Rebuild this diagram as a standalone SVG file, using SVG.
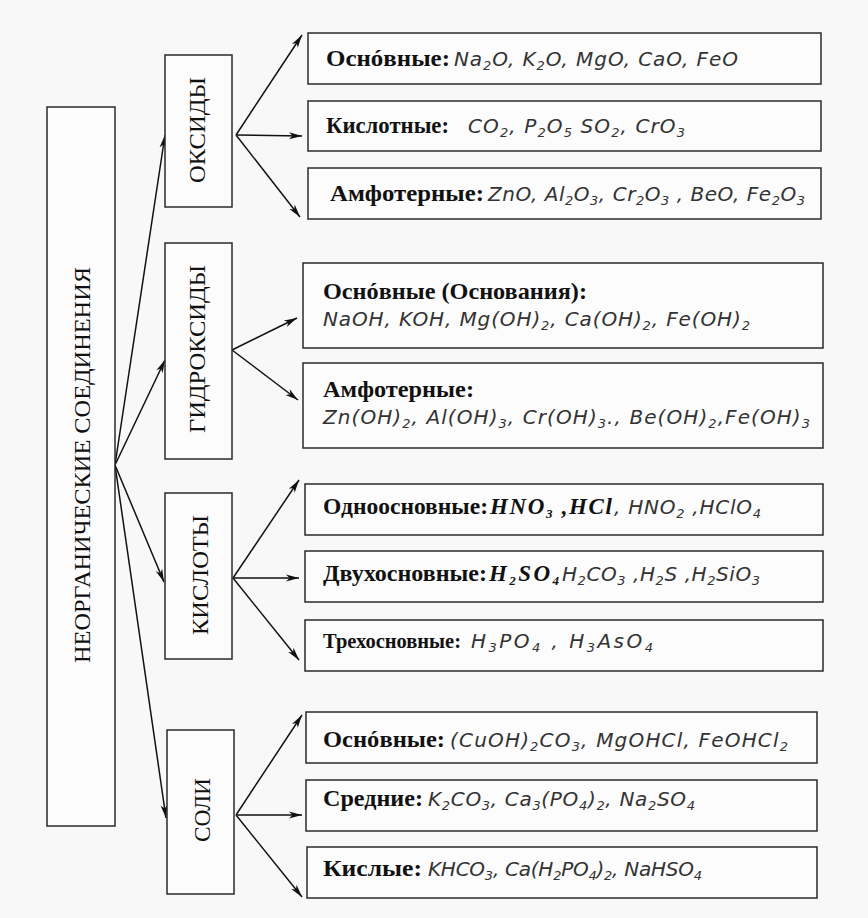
<svg xmlns="http://www.w3.org/2000/svg" width="868" height="918" viewBox="0 0 868 918">
<defs>
<style>
.bg{fill:#f8f8f8}
.box{fill:#fcfcfc;stroke:#2a2a2a;stroke-width:1.5}
.ttl{font-family:"Liberation Serif","Times New Roman",serif;font-size:24px;fill:#111}
.lbl{font-family:"Liberation Serif","Times New Roman",serif;font-size:23px;font-weight:bold;fill:#111}
.fb{font-family:"Liberation Serif","Times New Roman",serif;font-size:23px;font-weight:bold;font-style:italic;fill:#111}
.f{font-family:"DejaVu Sans","Liberation Sans",sans-serif;font-size:20px;font-style:italic;fill:#333}
.s{font-size:13px}
.arr{stroke:#111;stroke-width:1.5;fill:none;marker-end:url(#ah)}
</style>
<marker id="ah" markerUnits="userSpaceOnUse" markerWidth="14" markerHeight="8" refX="13" refY="3.5" orient="auto" overflow="visible">
<path d="M0,0 L13,3.5 L0,7 L3.5,3.5 z" fill="#111"/>
</marker>
</defs>
<rect class="bg" x="0" y="0" width="868" height="918"/>

<g id="connectors">
<line class="arr" x1="115" y1="465" x2="165" y2="135"/>
<line class="arr" x1="115" y1="465" x2="165" y2="360"/>
<line class="arr" x1="115" y1="465" x2="164" y2="582"/>
<line class="arr" x1="115" y1="465" x2="166" y2="818"/>
<line class="arr" x1="236" y1="135" x2="302" y2="35"/>
<line class="arr" x1="236" y1="135" x2="302" y2="136"/>
<line class="arr" x1="236" y1="135" x2="300" y2="217"/>
<line class="arr" x1="232" y1="350" x2="297" y2="318"/>
<line class="arr" x1="232" y1="350" x2="298" y2="400"/>
<line class="arr" x1="233" y1="578" x2="299" y2="480"/>
<line class="arr" x1="233" y1="578" x2="299" y2="578"/>
<line class="arr" x1="233" y1="578" x2="299" y2="660"/>
<line class="arr" x1="236" y1="815" x2="302" y2="715"/>
<line class="arr" x1="236" y1="815" x2="302" y2="815"/>
<line class="arr" x1="236" y1="815" x2="302" y2="897"/>
</g>

<g id="root">
<rect class="box" x="47" y="107" width="68" height="719"/>
<text class="ttl" transform="translate(90,465) rotate(-90)" x="0" y="0" text-anchor="middle" textLength="396" lengthAdjust="spacingAndGlyphs">НЕОРГАНИЧЕСКИЕ СОЕДИНЕНИЯ</text>
</g>

<g id="oxides">
<rect class="box" x="165" y="55" width="67" height="152"/>
<text class="ttl" transform="translate(205,130) rotate(-90)" x="0" y="0" text-anchor="middle" textLength="106" lengthAdjust="spacingAndGlyphs">ОКСИДЫ</text>
</g>
<g id="hydroxides">
<rect class="box" x="165" y="243" width="67" height="216"/>
<text class="ttl" transform="translate(205,349) rotate(-90)" x="0" y="0" text-anchor="middle" textLength="168" lengthAdjust="spacingAndGlyphs">ГИДРОКСИДЫ</text>
</g>
<g id="acids">
<rect class="box" x="165" y="493" width="67" height="166"/>
<text class="ttl" transform="translate(208,575) rotate(-90)" x="0" y="0" text-anchor="middle" textLength="120" lengthAdjust="spacingAndGlyphs">КИСЛОТЫ</text>
</g>
<g id="salts">
<rect class="box" x="167" y="730" width="67" height="164"/>
<text class="ttl" transform="translate(210,810) rotate(-90)" x="0" y="0" text-anchor="middle" textLength="64" lengthAdjust="spacingAndGlyphs">СОЛИ</text>
</g>

<g id="oxide-basic">
<rect class="box" x="308" y="33" width="513" height="51"/>
<text class="lbl" x="326" y="66" textLength="124" lengthAdjust="spacingAndGlyphs">Оснóвные:</text>
<text class="f" x="454" y="66" textLength="284">Na<tspan class="s" dy="4">2</tspan><tspan dy="-4">O, K</tspan><tspan class="s" dy="4">2</tspan><tspan dy="-4">O, MgO, CaO, FeO</tspan></text>
</g>
<g id="oxide-acidic">
<rect class="box" x="308" y="101" width="513" height="50"/>
<text class="lbl" x="326" y="133" textLength="123" lengthAdjust="spacingAndGlyphs">Кислотные:</text>
<text class="f" x="468" y="133" textLength="217">CO<tspan class="s" dy="4">2</tspan><tspan dy="-4">, P</tspan><tspan class="s" dy="4">2</tspan><tspan dy="-4">O</tspan><tspan class="s" dy="4">5</tspan><tspan dy="-4"> SO</tspan><tspan class="s" dy="4">2</tspan><tspan dy="-4">, CrO</tspan><tspan class="s" dy="4">3</tspan></text>
</g>
<g id="oxide-amph">
<rect class="box" x="308" y="168" width="513" height="51"/>
<text class="lbl" x="330" y="201" textLength="154" lengthAdjust="spacingAndGlyphs">Амфотерные:</text>
<text class="f" x="488" y="201" textLength="317">ZnO, Al<tspan class="s" dy="4">2</tspan><tspan dy="-4">O</tspan><tspan class="s" dy="4">3</tspan><tspan dy="-4">, Cr</tspan><tspan class="s" dy="4">2</tspan><tspan dy="-4">O</tspan><tspan class="s" dy="4">3</tspan><tspan dy="-4"> , BeO, Fe</tspan><tspan class="s" dy="4">2</tspan><tspan dy="-4">O</tspan><tspan class="s" dy="4">3</tspan></text>
</g>

<g id="hydroxide-basic">
<rect class="box" x="303" y="263" width="520" height="85"/>
<text class="lbl" x="323" y="299" textLength="264" lengthAdjust="spacingAndGlyphs">Оснóвные (Основания):</text>
<text class="f" x="323" y="326" textLength="427">NaOH, KOH, Mg(OH)<tspan class="s" dy="4">2</tspan><tspan dy="-4">, Ca(OH)</tspan><tspan class="s" dy="4">2</tspan><tspan dy="-4">, Fe(OH)</tspan><tspan class="s" dy="4">2</tspan></text>
</g>
<g id="hydroxide-amph">
<rect class="box" x="303" y="363" width="520" height="85"/>
<text class="lbl" x="323" y="397" textLength="151" lengthAdjust="spacingAndGlyphs">Амфотерные:</text>
<text class="f" x="323" y="424" textLength="487">Zn(OH)<tspan class="s" dy="4">2</tspan><tspan dy="-4">, Al(OH)</tspan><tspan class="s" dy="4">3</tspan><tspan dy="-4">, Cr(OH)</tspan><tspan class="s" dy="4">3</tspan><tspan dy="-4">., Be(OH)</tspan><tspan class="s" dy="4">2</tspan><tspan dy="-4">,Fe(OH)</tspan><tspan class="s" dy="4">3</tspan></text>
</g>

<g id="acid-mono">
<rect class="box" x="305" y="484" width="518" height="51"/>
<text class="lbl" x="323" y="514" textLength="165" lengthAdjust="spacingAndGlyphs">Одноосновные:</text>
<text class="fb" x="490" y="514" textLength="122">HNO<tspan class="s" dy="4">3</tspan><tspan dy="-4"> ,HCl</tspan></text>
<text class="f" x="614" y="514" textLength="147">, HNO<tspan class="s" dy="4">2</tspan><tspan dy="-4"> ,HClO</tspan><tspan class="s" dy="4">4</tspan></text>
</g>
<g id="acid-di">
<rect class="box" x="305" y="551" width="518" height="51"/>
<text class="lbl" x="323" y="581" textLength="164" lengthAdjust="spacingAndGlyphs">Двухосновные:</text>
<text class="fb" x="489" y="581" textLength="70">H<tspan class="s" dy="4">2</tspan><tspan dy="-4">SO</tspan><tspan class="s" dy="4">4</tspan></text>
<text class="f" x="562" y="581" textLength="198">H<tspan class="s" dy="4">2</tspan><tspan dy="-4">CO</tspan><tspan class="s" dy="4">3</tspan><tspan dy="-4"> ,H</tspan><tspan class="s" dy="4">2</tspan><tspan dy="-4">S ,H</tspan><tspan class="s" dy="4">2</tspan><tspan dy="-4">SiO</tspan><tspan class="s" dy="4">3</tspan></text>
</g>
<g id="acid-tri">
<rect class="box" x="305" y="620" width="518" height="51"/>
<text class="lbl" x="323" y="648" style="font-size:22px" textLength="138" lengthAdjust="spacingAndGlyphs">Трехосновные:</text>
<text class="f" x="471" y="648" textLength="182">H<tspan class="s" dy="4">3</tspan><tspan dy="-4">PO</tspan><tspan class="s" dy="4">4</tspan><tspan dy="-4"> , H</tspan><tspan class="s" dy="4">3</tspan><tspan dy="-4">AsO</tspan><tspan class="s" dy="4">4</tspan></text>
</g>

<g id="salt-basic">
<rect class="box" x="306" y="712" width="511" height="51"/>
<text class="lbl" x="323" y="747" textLength="122" lengthAdjust="spacingAndGlyphs">Оснóвные:</text>
<text class="f" x="450" y="747" textLength="338">(CuOH)<tspan class="s" dy="4">2</tspan><tspan dy="-4">CO</tspan><tspan class="s" dy="4">3</tspan><tspan dy="-4">, MgOHCl, FeOHCl</tspan><tspan class="s" dy="4">2</tspan></text>
</g>
<g id="salt-normal">
<rect class="box" x="306" y="780" width="511" height="51"/>
<text class="lbl" x="323" y="806" textLength="100" lengthAdjust="spacingAndGlyphs">Средние:</text>
<text class="f" x="428" y="806" textLength="267">K<tspan class="s" dy="4">2</tspan><tspan dy="-4">CO</tspan><tspan class="s" dy="4">3</tspan><tspan dy="-4">, Ca</tspan><tspan class="s" dy="4">3</tspan><tspan dy="-4">(PO</tspan><tspan class="s" dy="4">4</tspan><tspan dy="-4">)</tspan><tspan class="s" dy="4">2</tspan><tspan dy="-4">, Na</tspan><tspan class="s" dy="4">2</tspan><tspan dy="-4">SO</tspan><tspan class="s" dy="4">4</tspan></text>
</g>
<g id="salt-acidic">
<rect class="box" x="307" y="847" width="510" height="51"/>
<text class="lbl" x="323" y="876" textLength="99" lengthAdjust="spacingAndGlyphs">Кислые:</text>
<text class="f" x="428" y="876" textLength="274">KHCO<tspan class="s" dy="4">3</tspan><tspan dy="-4">, Ca(H</tspan><tspan class="s" dy="4">2</tspan><tspan dy="-4">PO</tspan><tspan class="s" dy="4">4</tspan><tspan dy="-4">)</tspan><tspan class="s" dy="4">2</tspan><tspan dy="-4">, NaHSO</tspan><tspan class="s" dy="4">4</tspan></text>
</g>
</svg>
